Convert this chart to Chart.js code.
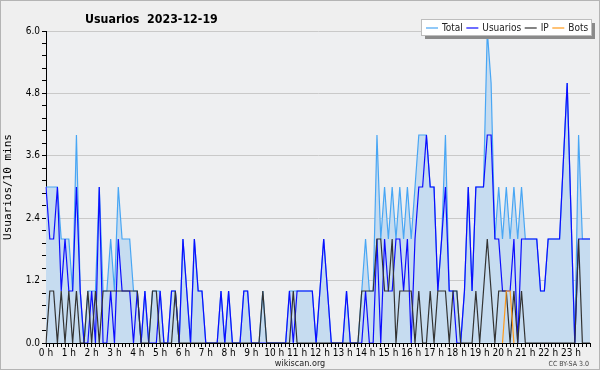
<!DOCTYPE html>
<html>
<head>
<meta charset="utf-8">
<script src="https://cdn.jsdelivr.net/npm/chart.js@4.4.1/dist/chart.umd.min.js"></script>
<style>
  html, body { margin: 0; padding: 0; background: #efefef; }
  canvas { display: block; }
</style>
</head>
<body>
<canvas id="usuariosChart" width="600" height="370"></canvas>
<script>
// one label per hour, 6 points (10 min) per hour
const horas = ['0 h','1 h','2 h','3 h','4 h','5 h','6 h','7 h','8 h','9 h','10 h','11 h',
               '12 h','13 h','14 h','15 h','16 h','17 h','18 h','19 h','20 h','21 h','22 h','23 h'];

const total = [
  3,3,3,3,2,2,  2,1,4,1,0,1,  1,1,3,1,1,2,  1,3,2,2,2,1,
  1,0,1,0,1,1,  1,0,0,1,1,0,  2,1,0,2,1,1,  0,0,0,0,1,0,
  1,0,0,0,1,1,  0,0,0,1,0,0,  0,0,0,0,1,1,  1,1,1,1,1,0,
  1,2,1,0,0,0,  0,1,0,0,0,1,  2,1,1,4,2,3,  2,3,2,3,2,3,
  2,3,4,4,4,3,  3,1,2,4,1,1,  1,0,1,3,1,3,  3,3,6,5,2,3,
  2,3,2,3,2,3,  2,2,2,2,1,1,  2,2,2,2,3.5,5, 2.5,0,4,2,2,2
];
const usuarios = [
  3,2,2,3,1,2,  1,1,3,1,0,0,  1,0,3,0,0,1,  0,2,1,1,1,0,
  1,0,1,0,0,0,  1,0,0,1,1,0,  2,1,0,2,1,1,  0,0,0,0,1,0,
  1,0,0,0,1,1,  0,0,0,0,0,0,  0,0,0,0,1,0,  1,1,1,1,1,0,
  1,2,1,0,0,0,  0,1,0,0,0,0,  1,0,0,2,0,2,  1,1,2,2,1,2,
  0,2,3,3,4,3,  3,1,2,3,1,1,  0,0,1,3,1,3,  3,3,4,4,2,2,
  1,1,1,2,0,2,  2,2,2,2,1,1,  2,2,2,2,3.5,5, 2.5,0,2,2,2,2
];
const ip = [
  0,1,1,0,1,0,  1,0,1,0,0,1,  0,1,0,1,1,1,  1,1,1,1,1,1,
  1,0,0,0,1,1,  0,0,0,0,1,0,  0,0,0,0,0,0,  0,0,0,0,0,0,
  0,0,0,0,0,0,  0,0,0,1,0,0,  0,0,0,0,0,1,  0,0,0,0,0,0,
  0,0,0,0,0,0,  0,0,0,0,0,1,  1,1,1,2,2,1,  1,2,0,1,1,1,
  1,0,1,0,0,1,  0,1,1,1,0,1,  1,0,0,0,0,1,  0,1,2,1,0,1,
  1,1,0,1,0,1,  0,0,0,0,0,0,  0,0,0,0,0,0,  0,0,2,0,0,0
];
// bots only show up around 20 h
const bots = [
  null,null,null,null,null,null, null,null,null,null,null,null, null,null,null,null,null,null, null,null,null,null,null,null,
  null,null,null,null,null,null, null,null,null,null,null,null, null,null,null,null,null,null, null,null,null,null,null,null,
  null,null,null,null,null,null, null,null,null,null,null,null, null,null,null,null,null,null, null,null,null,null,null,null,
  null,null,null,null,null,null, null,null,null,null,null,null, null,null,null,null,null,null, null,null,null,null,null,null,
  null,null,null,null,null,null, null,null,null,null,null,null, null,null,null,null,null,null, null,null,null,null,null,null,
  0,1,1,0,null,null, null,null,null,null,null,null, null,null,null,null,null,null, null,null,null,null,null,null
];

const etiquetas = [];
horas.forEach(h => { for (let m = 0; m < 6; m++) etiquetas.push(m === 0 ? h : ''); });

const fuente = 'DejaVu Sans Condensed';

const decoracion = {
  id: 'decoracion',
  beforeDraw(chart) {
    const c = chart.ctx;
    const a = chart.chartArea;
    c.save();
    c.fillStyle = '#efefef';
    c.fillRect(0, 0, chart.width, chart.height);
    c.fillStyle = '#eeeff1';
    c.fillRect(a.left, a.top, a.right - a.left, a.bottom - a.top);
    c.restore();
  },
  afterDraw(chart) {
    const c = chart.ctx;
    c.save();
    c.strokeStyle = '#b4b4b4';
    c.lineWidth = 1;
    c.strokeRect(0.5, 0.5, chart.width - 1, chart.height - 1);

    // title
    c.fillStyle = '#000';
    c.textBaseline = 'alphabetic';
    c.font = 'bold 12.3px "' + fuente + '"';
    c.fillText('Usuarios  2023-12-19', 85, 23);

    // legend box with shadow
    c.fillStyle = '#8a8a8a';
    c.fillRect(425, 23, 170, 16);
    c.fillStyle = '#ffffff';
    c.fillRect(422, 20, 170, 16);
    c.strokeStyle = '#bdbdbd';
    c.strokeRect(421.5, 19.5, 170, 16);
    c.font = '10px "' + fuente + '"';
    c.textBaseline = 'middle';
    let x = 426;
    chart.data.datasets.forEach(ds => {
      c.strokeStyle = ds.borderColor;
      c.lineWidth = 1.2;
      c.beginPath();
      c.moveTo(x, 28);
      c.lineTo(x + 12, 28);
      c.stroke();
      c.fillStyle = '#222';
      c.fillText(ds.label, x + 16, 28);
      x += 16 + c.measureText(ds.label).width + 3.5;
    });

    // footer
    c.textBaseline = 'alphabetic';
    c.fillStyle = '#222';
    c.font = '9px "' + fuente + '"';
    c.textAlign = 'center';
    c.fillText('wikiscan.org', 300, 366);
    c.font = '7px "' + fuente + '"';
    c.textAlign = 'right';
    c.fillStyle = '#444';
    c.fillText('CC BY-SA 3.0', 589, 366);
    c.restore();
  }
};

const ctx = document.getElementById('usuariosChart').getContext('2d');
const usuariosChart = new Chart(ctx, {
  type: 'line',
  data: {
    labels: etiquetas,
    datasets: [
      { label: 'Total', data: total, borderColor: '#48a6f4', backgroundColor: '#c6dcf0', fill: 'origin', order: 4 },
      { label: 'Usuarios', data: usuarios, borderColor: '#0c0cff', fill: false, order: 3 },
      { label: 'IP', data: ip, borderColor: '#333333', fill: false, order: 2 },
      { label: 'Bots', data: bots, borderColor: '#ff9a1a', fill: false, order: 1 }
    ]
  },
  options: {
    responsive: false,
    animation: false,
    layout: { padding: { top: 31, right: 10, bottom: 7, left: 0 } },
    elements: {
      line: { tension: 0, borderWidth: 1.2 },
      point: { radius: 0, hoverRadius: 0 }
    },
    plugins: { legend: { display: false }, title: { display: false }, tooltip: { enabled: false } },
    scales: {
      x: {
        type: 'category',
        offset: false,
        border: { color: '#000' },
        grid: { drawOnChartArea: false, drawTicks: true, tickLength: 4, tickColor: '#000' },
        ticks: {
          autoSkip: false, maxRotation: 0, minRotation: 0, padding: 0, color: '#000',
          font: { family: fuente, size: 10 },
          callback: (v, i) => etiquetas[i]
        },
        afterFit: s => { s.height = 20; }
      },
      y: {
        min: 0,
        max: 6,
        border: { color: '#000' },
        grid: {
          color: c => (Math.abs(c.tick.value / 1.2 - Math.round(c.tick.value / 1.2)) < 1e-6 ? '#c9c9c9' : 'rgba(0,0,0,0)'),
          tickColor: '#000',
          tickLength: 4
        },
        ticks: {
          stepSize: 0.24, autoSkip: false, padding: 2, color: '#000',
          font: { family: fuente, size: 10 },
          callback: v => (Math.abs(v / 1.2 - Math.round(v / 1.2)) < 1e-6 ? v.toFixed(1) : '')
        },
        title: {
          display: true, text: 'Usuarios/10 mins', color: '#000',
          font: { family: 'DejaVu Sans Mono', size: 11 },
          padding: { top: 2, bottom: 0 }
        },
        afterFit: s => { s.width = 46; }
      }
    }
  },
  plugins: [decoracion]
});
</script>
</body>
</html>
